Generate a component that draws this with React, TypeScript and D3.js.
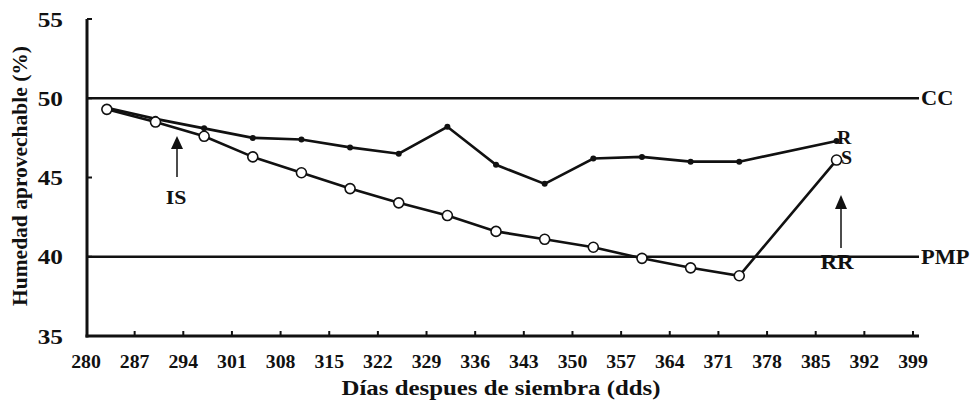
import React from "react";
import * as d3 from "d3";

const days = [283, 290, 297, 304, 311, 318, 325, 332, 339, 346, 353, 360, 367, 374, 388];
const seriesR = [49.4, 48.7, 48.1, 47.5, 47.4, 46.9, 46.5, 48.2, 45.8, 44.6, 46.2, 46.3, 46.0, 46.0, 47.3];
const seriesS = [49.3, 48.5, 47.6, 46.3, 45.3, 44.3, 43.4, 42.6, 41.6, 41.1, 40.6, 39.9, 39.3, 38.8, 46.1];
const xTicks = [280, 287, 294, 301, 308, 315, 322, 329, 336, 343, 350, 357, 364, 371, 378, 385, 392, 399];
const yTicks = [35, 40, 45, 50, 55];
const refLines = [
  { value: 50, label: "CC" },
  { value: 40, label: "PMP" },
];

const W = 976;
const H = 402;
const FONT = "'Liberation Serif', 'Times New Roman', serif";

function T({ x, y, size, anchor = "middle", children, rotate = 0, sx = 1.15 }: any) {
  const tr = rotate
    ? `translate(${x},${y}) rotate(${rotate})`
    : `translate(${x},${y}) scale(${sx},1)`;
  return (
    <text
      transform={tr}
      fontFamily={FONT}
      fontWeight="bold"
      fontSize={size}
      textAnchor={anchor}
      fill="#111"
    >
      {children}
    </text>
  );
}

export default function App() {
  const x = d3.scaleLinear().domain([280, 399]).range([86, 913]);
  const y = d3.scaleLinear().domain([35, 55]).range([336, 19]);
  const line = d3
    .line<number>()
    .x((_, i) => x(days[i]))
    .y((v) => y(v));
  const x0 = 87;
  const xEnd = 919;

  return (
    <svg
      width={W}
      height={H}
      style={{ position: "absolute", left: 0, top: 0, background: "#fff" }}
    >
      <rect width={W} height={H} fill="#fff" />
      {refLines.map((r) => (
        <g key={r.label}>
          <line x1={x0} x2={xEnd} y1={y(r.value)} y2={y(r.value)} stroke="#111" strokeWidth={2.5} />
          <T x={xEnd + 2} y={y(r.value) + 7} size={20} anchor="start" sx={1.12}>
            {r.label}
          </T>
        </g>
      ))}
      <line x1={x0} x2={x0} y1={y(55)} y2={y(35) + 1.5} stroke="#111" strokeWidth={3} />
      <line x1={x0 - 1.5} x2={xEnd} y1={y(35)} y2={y(35)} stroke="#111" strokeWidth={3} />
      {yTicks.map((t) => (
        <g key={t}>
          <line x1={x0} x2={x0 + 5} y1={y(t)} y2={y(t)} stroke="#111" strokeWidth={2} />
          <T x={63} y={y(t) + 7.5} size={22} anchor="end" sx={1.15}>
            {t}
          </T>
        </g>
      ))}
      {xTicks.map((t, i) => (
        <g key={t}>
          {i > 0 && (
            <line x1={x(t)} x2={x(t)} y1={y(35)} y2={y(35) - 5} stroke="#111" strokeWidth={2} />
          )}
          <T x={x(t)} y={368} size={18} sx={1.1}>
            {t}
          </T>
        </g>
      ))}
      <T x={501} y={395} size={22} sx={1.13}>
        Días despues de siembra (dds)
      </T>
      <T x={27} y={176} size={21.5} rotate={-90}>
        Humedad aprovechable (%)
      </T>
      <path d={line(seriesR) || ""} fill="none" stroke="#111" strokeWidth={2.6} />
      <path d={line(seriesS) || ""} fill="none" stroke="#111" strokeWidth={2.6} />
      {seriesR.map((v, i) => (
        <circle key={"r" + i} cx={x(days[i])} cy={y(v)} r={3} fill="#111" />
      ))}
      {seriesS.map((v, i) => (
        <circle
          key={"s" + i}
          cx={x(days[i])}
          cy={y(v)}
          r={5}
          fill="#fff"
          stroke="#111"
          strokeWidth={1.6}
        />
      ))}
      <T x={837} y={144} size={19} anchor="start" sx={1.05}>
        R
      </T>
      <T x={841} y={164} size={19} anchor="start" sx={1.05}>
        S
      </T>
      <line x1={177} x2={177} y1={177} y2={148} stroke="#111" strokeWidth={1.5} />
      <path d="M171,149 L177,136 L183,149 Z" fill="#111" />
      <T x={176} y={204} size={19}>
        IS
      </T>
      <line x1={841} x2={841} y1={248} y2={208} stroke="#111" strokeWidth={1.5} />
      <path d="M835,209 L841,195 L847,209 Z" fill="#111" />
      <T x={837} y={269} size={20}>
        RR
      </T>
    </svg>
  );
}
